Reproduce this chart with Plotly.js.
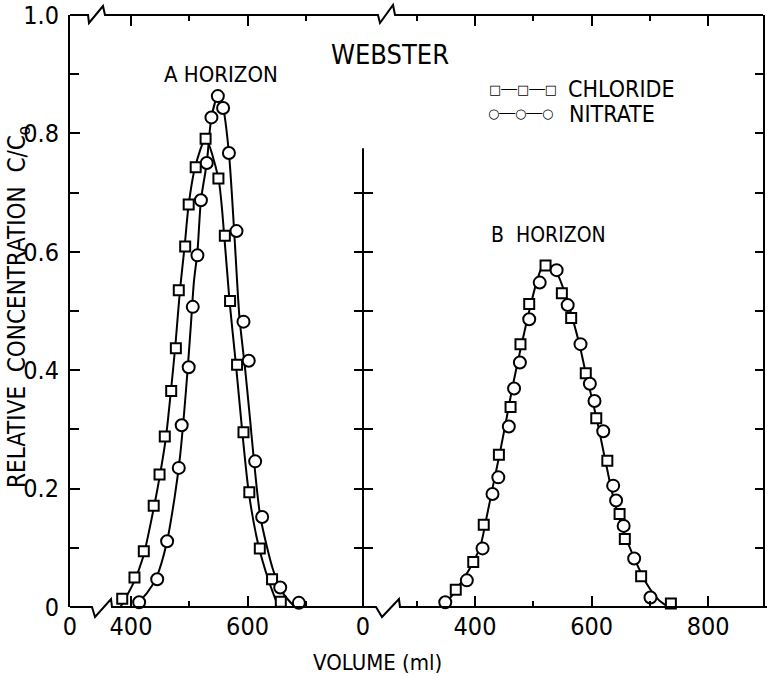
<!DOCTYPE html>
<html>
<head>
<meta charset="utf-8">
<script src="https://cdn.plot.ly/plotly-3.0.1.min.js"></script>
<style>html,body{margin:0;padding:0;background:#fff;}#chart{width:767px;height:676px;}</style>
</head>
<body>
<div id="chart"></div>
<script>
// ---------- DATA ----------
// A horizon, chloride (squares)
const aClX = [385,406,422,439,449,458,469,477,482,493,499,511,528,550,561,570,582,593,603,621,642,657];
const aClY = [0.014,0.050,0.094,0.171,0.224,0.288,0.365,0.437,0.535,0.609,0.680,0.743,0.791,0.724,0.627,0.517,0.409,0.295,0.194,0.099,0.047,0.009];
// A horizon, nitrate (circles)
const aNoX = [414,445,462,482,487,499,506,514,520,530,538,549,558,568,581,593,602,613,625,656,688];
const aNoY = [0.008,0.047,0.111,0.235,0.307,0.405,0.507,0.594,0.687,0.750,0.827,0.863,0.843,0.767,0.635,0.482,0.416,0.246,0.152,0.033,0.007];
// A horizon fitted curves
const aClFitX = [382,404,421,436,449,460,468,476,484,492,499,510,528,550,560,569,580,591,602,618,636,653];
const aClFitY = [0,0.04,0.085,0.152,0.219,0.287,0.36,0.44,0.535,0.609,0.68,0.743,0.791,0.724,0.627,0.517,0.41,0.295,0.194,0.107,0.045,0];
const aNoFitX = [404,427,444,461,475,484,491,497,503,508,514,520,530,538,549,558,568,577,586,596,604,611,622,644,661,681];
const aNoFitY = [0,0.023,0.051,0.107,0.186,0.253,0.326,0.399,0.48,0.55,0.60,0.687,0.75,0.827,0.863,0.843,0.767,0.635,0.49,0.40,0.32,0.247,0.152,0.062,0.023,0];
// B horizon, chloride (squares)
const bClX = [367,397,415,441,461,478,493,521,549,565,590,608,627,648,657,685,736];
const bClY = [0.029,0.076,0.139,0.257,0.338,0.444,0.512,0.577,0.530,0.488,0.395,0.319,0.247,0.157,0.115,0.052,0.006];
// B horizon, nitrate (circles)
const bNoX = [349,386,413,430,440,458,467,477,493,511,540,559,581,597,605,620,637,642,655,673,701];
const bNoY = [0.008,0.045,0.099,0.191,0.219,0.305,0.369,0.413,0.486,0.548,0.569,0.510,0.444,0.377,0.348,0.297,0.205,0.180,0.137,0.082,0.016];
// B horizon fitted curve
const bFitX = [346,369,391,409,420,431,443,454,465,478,493,506,514,523,540,555,568,580,590,600,612,623,637,654,672,694,715,732];
const bFitY = [0,0.031,0.065,0.102,0.152,0.205,0.262,0.318,0.375,0.435,0.50,0.55,0.572,0.58,0.565,0.528,0.485,0.44,0.395,0.355,0.303,0.25,0.186,0.130,0.085,0.040,0.012,0];

// tick labels
const xATickVals = [295.4,400,600];
const xATickText = ['0','400','600'];
const xAMinor = [500,700];
const xBTickVals = [207.9,400,600,800];
const xBTickText = ['0','400','600','800'];
const xBMinor = [300,500,700];
const yTickVals = [0,0.2,0.4,0.6,0.8,1.0];
const yTickText = ['0','0.2','0.4','0.6','0.8','1.0'];
const yMinor = [0.1,0.3,0.5,0.7,0.9];
const yAllTenths = [0.1,0.2,0.3,0.4,0.5,0.6,0.7,0.8,0.9];
const divTicks = [0.1,0.2,0.3,0.4,0.5,0.6,0.7];

// ---------- STYLE ----------
const FONT = "'DejaVu Sans Condensed', 'Liberation Sans Narrow', 'DejaVu Sans', sans-serif";
const L = 70, R = 4, T = 15, B = 69, W = 767, H = 676;
const PW = W - L - R, PH = H - T - B;
const PX = px => (px - L) / PW;
const PY = py => (H - B - py) / PH;
const D1 = PX(363);
const path = pts => 'M' + pts.map(p => PX(p[0]).toFixed(4) + ',' + PY(p[1]).toFixed(4)).join('L');

const fitLine = {color:'black', width:2, shape:'spline', smoothing:0.7};
const sq = {symbol:'square', size:10, color:'white', line:{color:'black', width:2}};
const ci = {symbol:'circle', size:12, color:'white', line:{color:'black', width:2}};

const traces = [
  {x:aClFitX, y:aClFitY, xaxis:'x', yaxis:'y', mode:'lines', line:fitLine, showlegend:false, hoverinfo:'skip'},
  {x:aNoFitX, y:aNoFitY, xaxis:'x', yaxis:'y', mode:'lines', line:fitLine, showlegend:false, hoverinfo:'skip'},
  {x:bFitX, y:bFitY, xaxis:'x2', yaxis:'y2', mode:'lines', line:fitLine, showlegend:false, hoverinfo:'skip'},
  {x:aClX, y:aClY, xaxis:'x', yaxis:'y', mode:'markers', marker:sq, cliponaxis:false, showlegend:false},
  {x:aNoX, y:aNoY, xaxis:'x', yaxis:'y', mode:'markers', marker:ci, cliponaxis:false, showlegend:false},
  {x:bClX, y:bClY, xaxis:'x2', yaxis:'y2', mode:'markers', marker:sq, cliponaxis:false, showlegend:false},
  {x:bNoX, y:bNoY, xaxis:'x2', yaxis:'y2', mode:'markers', marker:ci, cliponaxis:false, showlegend:false},
  {x:[null], y:[null], xaxis:'x', yaxis:'y3', mode:'markers', showlegend:false, hoverinfo:'skip'},
  {x:[null], y:[null], xaxis:'x', yaxis:'y4', mode:'markers', showlegend:false, hoverinfo:'skip'}
];

const tickFont = {family:FONT, size:25, color:'black'};
const xCommon = {showline:false, showgrid:false, zeroline:false, ticks:'inside', ticklen:11, tickwidth:2,
  tickcolor:'black', mirror:'ticks', tickmode:'array', tickfont:tickFont, ticklabelstandoff:2, fixedrange:true};

const ann = (text, px, py, size, extra) => Object.assign({text:text, x:PX(px), y:PY(py), xref:'paper', yref:'paper',
  xanchor:'center', yanchor:'middle', showarrow:false, font:{family:FONT, size:size, color:'black'}}, extra || {});

const layout = {
  width:W, height:H, margin:{l:L, r:R, t:T, b:B}, paper_bgcolor:'white', plot_bgcolor:'white',
  showlegend:false, font:{family:FONT, color:'black'},
  xaxis: Object.assign({}, xCommon, {domain:[0,D1], range:[295.4,798], anchor:'y',
    tickvals:xATickVals, ticktext:xATickText,
    minor:{tickmode:'array', tickvals:xAMinor, ticks:'inside', ticklen:6, tickwidth:2, tickcolor:'black'}}),
  xaxis2: Object.assign({}, xCommon, {domain:[D1,1], range:[207.9,894], anchor:'y2',
    tickvals:xBTickVals, ticktext:xBTickText,
    minor:{tickmode:'array', tickvals:xBMinor, ticks:'inside', ticklen:6, tickwidth:2, tickcolor:'black'}}),
  yaxis: {domain:[0,1], range:[0,1], anchor:'x', showline:true, linewidth:2, linecolor:'black',
    ticks:'inside', ticklen:10, tickwidth:2, tickcolor:'black', tickmode:'array',
    tickvals:yTickVals, ticktext:yTickText, tickfont:tickFont, ticklabelstandoff:4,
    minor:{tickmode:'array', tickvals:yMinor, ticks:'inside', ticklen:9, tickwidth:2, tickcolor:'black'},
    showgrid:false, zeroline:false, fixedrange:true},
  yaxis2: {domain:[0,1], range:[0,1], anchor:'x2', side:'right', showline:true, linewidth:2, linecolor:'black',
    ticks:'inside', ticklen:8, tickwidth:2, tickcolor:'black', tickmode:'array', tickvals:yAllTenths,
    showticklabels:false, showgrid:false, zeroline:false, fixedrange:true},
  yaxis3: {overlaying:'y', anchor:'free', position:D1, range:[0,1], ticks:'outside', ticklen:9, tickwidth:2,
    tickcolor:'black', tickmode:'array', tickvals:divTicks, showticklabels:false, showline:false,
    showgrid:false, zeroline:false, fixedrange:true},
  yaxis4: {overlaying:'y', anchor:'free', position:D1, range:[0,1], ticks:'inside', ticklen:9, tickwidth:2,
    tickcolor:'black', tickmode:'array', tickvals:divTicks, showticklabels:false, showline:false,
    showgrid:false, zeroline:false, fixedrange:true},
  shapes: [
    {type:'line', xref:'paper', yref:'y', x0:D1, x1:D1, y0:0, y1:0.775, line:{color:'black', width:2}},
    {type:'path', xref:'paper', yref:'paper', line:{color:'black', width:2},
      path: path([[70,607],[92,607],[95,617],[111,599],[112,607],[376,607],[382,617],[399,599],[400,607],[767,607]])},
    {type:'path', xref:'paper', yref:'paper', line:{color:'black', width:2},
      path: path([[70,15],[88,15],[89,23],[103,6],[105,15],[378,15],[380,23],[393,5],[395,15],[763,15]])}
  ],
  annotations: [
    ann('WEBSTER', 390, 54, 27),
    ann('A HORIZON', 221, 75, 22),
    ann('B  HORIZON', 548, 235, 21),
    Object.assign(ann('□──□──□', 487, 89, 13, {xanchor:'left'}), {font:{family:'DejaVu Sans', size:13, color:'black'}}),
    Object.assign(ann('○──○──○', 486, 113, 13, {xanchor:'left'}), {font:{family:'DejaVu Sans', size:13, color:'black'}}),
    ann('CHLORIDE', 566, 89, 23, {xanchor:'left'}),
    ann('NITRATE', 567, 114, 23, {xanchor:'left'}),
    ann('RELATIVE  CONCENTRATION  C/C<sub>o</sub>', 18, 307, 24, {textangle:-90}),
    ann('VOLUME (ml)', 377, 662, 22)
  ]
};

Plotly.newPlot('chart', traces, layout, {staticPlot:true, displayModeBar:false});
</script>
</body>
</html>
